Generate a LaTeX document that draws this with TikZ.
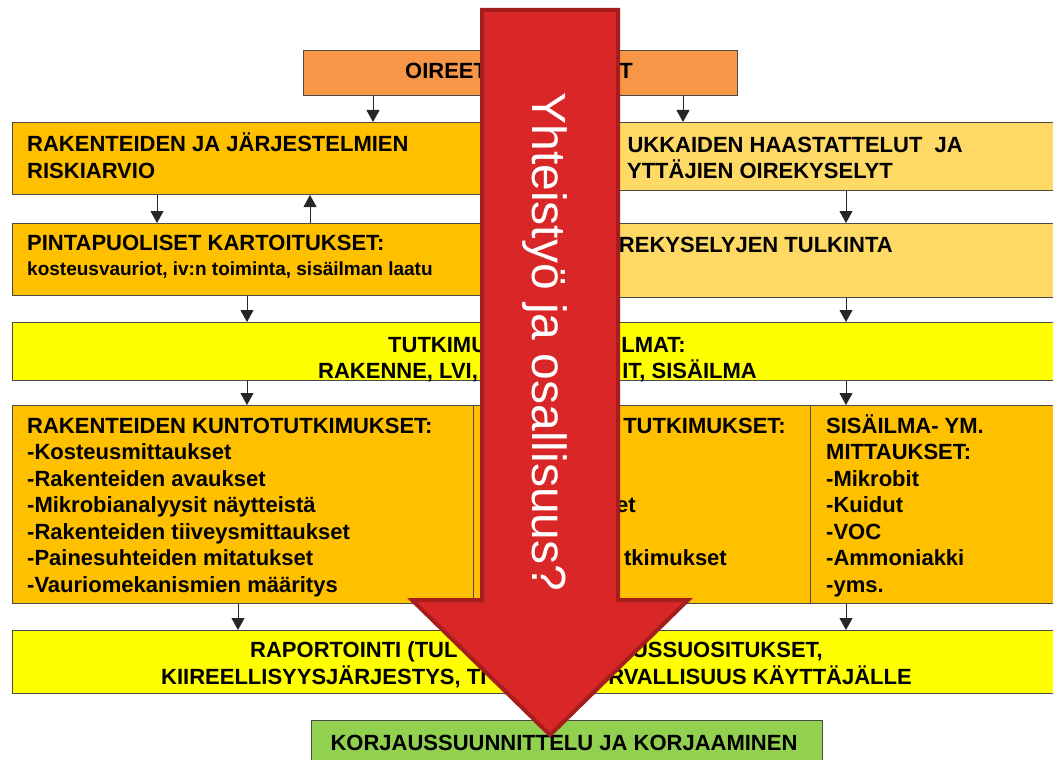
\documentclass[tikz,border=0pt]{standalone}
\usepackage{fontspec}
\setmainfont{Liberation Sans}
\usetikzlibrary{arrows.meta}

\definecolor{oirorange}{HTML}{F79646}
\definecolor{boxgold}{HTML}{FFC000}
\definecolor{boxpale}{HTML}{FFD966}
\definecolor{boxyellow}{HTML}{FFFF00}
\definecolor{boxgreen}{HTML}{92D050}
\definecolor{boxline}{HTML}{4A4A4A}
\definecolor{arrowred}{HTML}{D92626}
\definecolor{arrowdark}{HTML}{A51D1D}

\tikzset{
  box/.style={draw=boxline, line width=1pt, inner sep=0pt},
  txt/.style={font=\fontsize{22}{26.5}\selectfont\bfseries, inner sep=0pt, align=left},
  conn/.style={draw=black!85, line width=1pt, -{Triangle[length=12pt,width=13pt]}},
  bigarrow/.style={fill=arrowred, draw=arrowdark, line width=4pt, line join=miter}
}

\begin{document}
\begin{tikzpicture}[x=1pt,y=-1pt]

    % Page size of the reference
    \useasboundingbox (0,0) rectangle (1053,760);
    \clip (0,0) rectangle (1053,760);

    % Boxes of the flow chart
    \node[box, fill=oirorange, minimum width=434pt, minimum height=45pt, anchor=north west] (oireet) at (303,50) {};
    \node[box, fill=boxgold, minimum width=548pt, minimum height=72pt, anchor=north west] (riski) at (12,122) {};
    \node[box, fill=boxpale, minimum width=503pt, minimum height=68pt, anchor=north west] (asukas) at (560,122) {};
    \node[box, fill=boxgold, minimum width=548pt, minimum height=72pt, anchor=north west] (pinta) at (12,223) {};
    \node[box, fill=boxpale, minimum width=503pt, minimum height=74pt, anchor=north west] (tulkinta) at (560,223) {};
    \node[box, fill=boxyellow, minimum width=1051pt, minimum height=58pt, anchor=north west] (tutkimus) at (12,322) {};
    \node[box, fill=boxgold, minimum width=461pt, minimum height=198pt, anchor=north west] (kunto) at (12,405) {};
    \node[box, fill=boxgold, minimum width=337pt, minimum height=198pt, anchor=north west] (lvi) at (473,405) {};
    \node[box, fill=boxgold, minimum width=253pt, minimum height=198pt, anchor=north west] (sisa) at (810,405) {};
    \node[box, fill=boxyellow, minimum width=1051pt, minimum height=63pt, anchor=north west] (raportti) at (12,630) {};
    \node[box, fill=boxgreen, minimum width=511pt, minimum height=55pt, anchor=north west] (korjaus) at (311,720) {};

    % Texts in the boxes (multi-line texts sit on their last baseline)
    \node[txt, anchor=base west] (oireetA) at (405,79) {OIREET};
    \node[txt, anchor=base east] (oireetB) at (633,79) {T};
    \node[txt, anchor=base west] (riskiT) at (27,178) {RAKENTEIDEN JA JÄRJESTELMIEN\\RISKIARVIO};
    \node[txt, anchor=base east] (asukasA) at (963,152) {UKKAIDEN HAASTATTELUT\ \ JA};
    \node[txt, anchor=base east] (asukasB) at (893,178) {YTTÄJIEN OIREKYSELYT};
    \node[txt, anchor=base west] (pintaA) at (27,250) {PINTAPUOLISET KARTOITUKSET:};
    \node[txt, anchor=base west, font=\fontsize{19}{22}\selectfont\bfseries] (pintaB) at (27,275) {kosteusvauriot, iv:n toiminta, sisäilman laatu};
    \node[txt, anchor=base east] (tulkintaT) at (893,252) {REKYSELYJEN TULKINTA};
    \node[txt, anchor=base west] (tutkA) at (388,352) {TUTKIMU};
    \node[txt, anchor=base east] (tutkB) at (686,352) {LMAT:};
    \node[txt, anchor=base west] (tutkC) at (318,378) {RAKENNE, LVI,};
    \node[txt, anchor=base east] (tutkD) at (757,378) {IT, SISÄILMA};
    \node[txt, anchor=base west] (kuntoT) at (27,592) {RAKENTEIDEN KUNTOTUTKIMUKSET:\\-Kosteusmittaukset\\-Rakenteiden avaukset\\-Mikrobianalyysit näytteistä\\-Rakenteiden tiiveysmittaukset\\-Painesuhteiden mitatukset\\-Vauriomekanismien määritys};
    \node[txt, anchor=base east] (lviA) at (786,433) {TUTKIMUKSET:};
    \node[txt, anchor=base east] (lviB) at (636,512) {et};
    \node[txt, anchor=base east] (lviC) at (727,565) {tkimukset};
    \node[txt, anchor=base west] (sisaT) at (826,592) {SISÄILMA- YM.\\MITTAUKSET:\\-Mikrobit\\-Kuidut\\-VOC\\-Ammoniakki\\-yms.};
    \node[txt, anchor=base west] (rapA) at (250,657) {RAPORTOINTI (TUL};
    \node[txt, anchor=base east] (rapB) at (823,657) {USSUOSITUKSET,};
    \node[txt, anchor=base west] (rapC) at (161,684) {KIIREELLISYYSJÄRJESTYS, TI};
    \node[txt, anchor=base east] (rapD) at (912,684) {RVALLISUUS KÄYTTÄJÄLLE};
    \node[txt, anchor=base] (korjausT) at (564,750) {KORJAUSSUUNNITTELU JA KORJAAMINEN};

    % Connectors between the boxes
    \draw[conn] ([xshift=70pt]oireet.south west) -- ([xshift=361pt]riski.north west);
    \draw[conn] ([xshift=380pt]oireet.south west) -- ([xshift=123pt]asukas.north west);
    \draw[conn] ([xshift=145pt]riski.south west) -- ([xshift=145pt]pinta.north west);
    \draw[conn] ([xshift=298pt]pinta.north west) -- ([xshift=298pt]riski.south west);
    \draw[conn] ([xshift=286pt]asukas.south west) -- ([xshift=286pt]tulkinta.north west);
    \draw[conn] ([xshift=235pt]pinta.south west) -- ([xshift=235pt]tutkimus.north west);
    \draw[conn] ([xshift=286pt]tulkinta.south west) -- ([xshift=834pt]tutkimus.north west);
    \draw[conn] ([xshift=235pt]tutkimus.south west) -- ([xshift=235pt]kunto.north west);
    \draw[conn] ([xshift=834pt]tutkimus.south west) -- ([xshift=36pt]sisa.north west);
    \draw[conn] ([xshift=226pt]kunto.south west) -- ([xshift=226pt]raportti.north west);
    \draw[conn] ([xshift=36pt]sisa.south west) -- ([xshift=834pt]raportti.north west);

    % The big red arrow over the chart
    \draw[bigarrow] (482,10) -- (618,10) -- (618,600) -- (688,600) -- (550,735)
        -- (412,600) -- (482,600) -- cycle;
    \node[rotate=-90, anchor=base, inner sep=0pt, text=white,
          font=\fontsize{48}{48}\selectfont] (yhteis) at (532,342) {Yhteistyö ja osallisuus?};

\end{tikzpicture}
\end{document}
